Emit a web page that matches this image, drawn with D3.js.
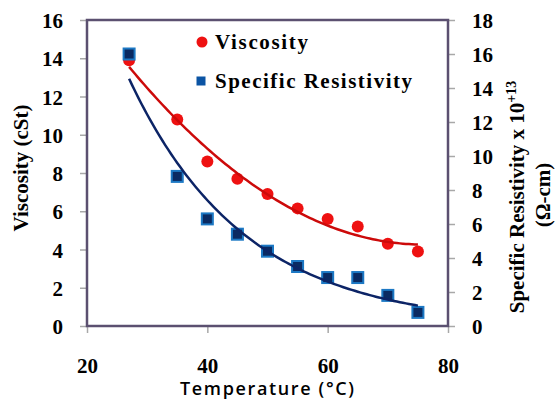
<!DOCTYPE html>
<html>
<head>
<meta charset="utf-8">
<script src="https://cdn.jsdelivr.net/npm/d3@7"></script>
<style>
  body { margin: 0; background: #fff; }
  svg { display: block; }
</style>
</head>
<body>
<div id="chart"></div>
<script>
var width = 557, height = 401;

// data
var temps = [27, 35, 40, 45, 50, 55, 60, 65, 70, 75];
var viscosity = [13.9, 10.8, 8.6, 7.7, 6.9, 6.15, 5.6, 5.2, 4.3, 3.9];
var resistivity = [16.0, 8.8, 6.3, 5.4, 4.4, 3.5, 2.85, 2.85, 1.8, 0.8];
var xTicks = [20, 40, 60, 80];
var leftTicks = [0, 2, 4, 6, 8, 10, 12, 14, 16];
var rightTicks = [0, 2, 4, 6, 8, 10, 12, 14, 16, 18];

var margin = {left: 87, top: 20, right: 109, bottom: 75};

var svg = d3.select("#chart")
            .append("svg")
            .attr("width", width)
            .attr("height", height);

var x = d3.scaleLinear().domain([20, 80]).range([margin.left, width - margin.right]);
var yL = d3.scaleLinear().domain([0, 16]).range([height - margin.bottom, margin.top]);
var yR = d3.scaleLinear().domain([0, 18]).range([height - margin.bottom, margin.top]);

// least squares quadratic (viscosity trend)
function polyFit2(xs, ys) {
  var n = xs.length, s = [0, 0, 0, 0, 0], t = [0, 0, 0];
  for (var i = 0; i < n; i++) {
    var p = 1;
    for (var k = 0; k < 5; k++) { s[k] += p; if (k < 3) t[k] += p * ys[i]; p *= xs[i]; }
  }
  var A = [[s[0], s[1], s[2], t[0]], [s[1], s[2], s[3], t[1]], [s[2], s[3], s[4], t[2]]];
  for (var c = 0; c < 3; c++) {
    for (var r = c + 1; r < 3; r++) {
      var f = A[r][c] / A[c][c];
      for (var j = c; j < 4; j++) A[r][j] -= f * A[c][j];
    }
  }
  var b = [0, 0, 0];
  for (var r2 = 2; r2 >= 0; r2--) {
    var sum = A[r2][3];
    for (var j2 = r2 + 1; j2 < 3; j2++) sum -= A[r2][j2] * b[j2];
    b[r2] = sum / A[r2][r2];
  }
  return function(v) { return b[0] + b[1] * v + b[2] * v * v; };
}

// exponential trend (resistivity), fit on logs
function expFit(xs, ys) {
  var n = xs.length, mx = d3.mean(xs), ly = ys.map(Math.log), my = d3.mean(ly);
  var num = 0, den = 0;
  for (var i = 0; i < n; i++) { num += (xs[i] - mx) * (ly[i] - my); den += (xs[i] - mx) * (xs[i] - mx); }
  var k = num / den, a = my - k * mx;
  return function(v) { return Math.exp(a + k * v); };
}

var viscFit = polyFit2(temps, viscosity);
var resFit = expFit(temps, resistivity);
var tLine = d3.range(27, 75.01, 0.5);

var axisColor = "#5b5070";
var serif = "'Times New Roman', Times, 'Liberation Serif', Tinos, 'Noto Serif', 'DejaVu Serif', serif";

// axes
var gx = svg.append("g")
  .attr("transform", "translate(0," + (height - margin.bottom) + ")")
  .call(d3.axisBottom(x).tickValues(xTicks).tickSize(7).tickPadding(20));
var gl = svg.append("g")
  .attr("transform", "translate(" + margin.left + ",0)")
  .call(d3.axisLeft(yL).tickValues(leftTicks).tickSize(7).tickPadding(17));
var gr = svg.append("g")
  .attr("transform", "translate(" + (width - margin.right) + ",0)")
  .call(d3.axisRight(yR).tickValues(rightTicks).tickSize(7).tickPadding(17));

[gx, gl, gr].forEach(function(g) {
  g.attr("font-family", serif).attr("font-size", 21).attr("font-weight", "bold");
  g.select(".domain").remove();
  g.selectAll(".tick line").attr("stroke", "#a8a8a8").attr("stroke-width", 1.5);
  g.selectAll(".tick text").attr("fill", "#000");
});
gx.selectAll(".tick text").attr("dy", "0.95em");
gl.selectAll(".tick text").attr("dy", "0.36em");
gr.selectAll(".tick text").attr("dy", "0.36em");

// plot frame
svg.append("rect")
  .attr("x", x(20)).attr("y", yL(16))
  .attr("width", x(80) - x(20)).attr("height", yL(0) - yL(16))
  .attr("fill", "none")
  .attr("stroke", axisColor)
  .attr("stroke-width", 2.5);

// markers
svg.selectAll("circle.visc")
  .data(temps)
  .enter()
  .append("circle")
  .attr("class", "visc")
  .attr("cx", function(d) { return x(d); })
  .attr("cy", function(d, i) { return yL(viscosity[i]); })
  .attr("r", 6)
  .attr("fill", "#ee1111");

var sq = 11;
svg.selectAll("rect.res")
  .data(temps)
  .enter()
  .append("rect")
  .attr("class", "res")
  .attr("x", function(d) { return x(d) - sq / 2; })
  .attr("y", function(d, i) { return yR(resistivity[i]) - sq / 2; })
  .attr("width", sq).attr("height", sq)
  .attr("fill", "#0a2a62")
  .attr("stroke", "#1c78c4")
  .attr("stroke-width", 2);

// trend lines
svg.append("path")
  .datum(tLine)
  .attr("fill", "none")
  .attr("stroke", "#cc0a0a")
  .attr("stroke-width", 2.5)
  .attr("d", d3.line().x(function(d) { return x(d); }).y(function(d) { return yL(viscFit(d)); }));

svg.append("path")
  .datum(tLine)
  .attr("fill", "none")
  .attr("stroke", "#0c2466")
  .attr("stroke-width", 2.5)
  .attr("d", d3.line().x(function(d) { return x(d); }).y(function(d) { return yR(resFit(d)); }));

// legend
svg.append("circle").attr("cx", 202).attr("cy", 42).attr("r", 5.5).attr("fill", "#ee1111");
svg.append("text").attr("x", 215).attr("y", 49)
  .attr("font-family", serif).attr("font-weight", "bold").attr("font-size", 21)
  .attr("textLength", 93).attr("lengthAdjust", "spacing")
  .text("Viscosity");
svg.append("rect").attr("x", 196.5).attr("y", 76.5).attr("width", 9).attr("height", 9).attr("fill", "#0b54a4");
svg.append("text").attr("x", 215).attr("y", 88)
  .attr("font-family", serif).attr("font-weight", "bold").attr("font-size", 21)
  .attr("textLength", 197).attr("lengthAdjust", "spacing")
  .text("Specific Resistivity");

// axis titles
svg.append("text")
  .attr("x", 267).attr("y", 395)
  .attr("text-anchor", "middle")
  .attr("font-family", "'Open Sans', 'Noto Sans', sans-serif")
  .attr("font-size", 18).attr("font-weight", 600)
  .attr("textLength", 174).attr("lengthAdjust", "spacing")
  .text("Temperature (°C)");

svg.append("text")
  .attr("transform", "translate(28,168) rotate(-90)")
  .attr("text-anchor", "middle")
  .attr("font-family", serif).attr("font-weight", "bold").attr("font-size", 21)
  .text("Viscosity (cSt)");

var rt = svg.append("text")
  .attr("transform", "translate(524,197) rotate(-90)")
  .attr("text-anchor", "middle")
  .attr("font-family", serif).attr("font-weight", "bold").attr("font-size", 21);
rt.append("tspan").text("Specific Resistivity x 10");
rt.append("tspan").attr("font-size", 14).attr("dy", -8).text("+13");

svg.append("text")
  .attr("transform", "translate(550,195) rotate(-90)")
  .attr("text-anchor", "middle")
  .attr("font-family", serif).attr("font-weight", "bold").attr("font-size", 21)
  .text("(Ω-cm)");
</script>
</body>
</html>
